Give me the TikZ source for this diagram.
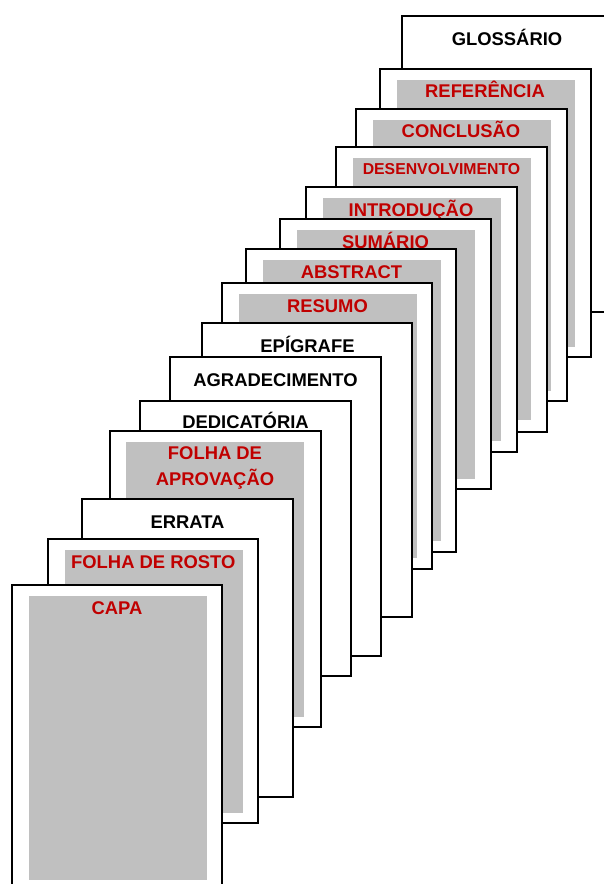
\documentclass[tikz,border=0pt]{standalone}
\usepackage{fontspec}
\setmainfont{Liberation Sans}
\definecolor{redtxt}{HTML}{C00000}
\definecolor{greyfill}{HTML}{C0C0C0}
\tikzset{
  sheet/.style={draw=black, fill=white, line width=1.3pt},
  shade/.style={fill=greyfill, draw=none},
  lbl/.style={anchor=base, inner sep=0pt, font=\fontsize{18.4}{20}\selectfont\bfseries},
  redlbl/.style={lbl, text=redtxt},
  blacklbl/.style={lbl, text=black},
}
\begin{document}
\begin{tikzpicture}[x=1pt,y=-1pt]
\useasboundingbox (0,0) rectangle (603,884);
% GLOSSARIO
\draw[sheet] (402,16) rectangle (620,312);
\node[blacklbl] (glos) at (507,45) {GLOSSÁRIO};
% REFERENCIA
\draw[sheet] (380,69) rectangle (591,357);
\fill[shade] (397,80) rectangle (575,347);
\node[redlbl] (ref) at (485,97) {REFERÊNCIA};
% CONCLUSAO
\draw[sheet] (356,109) rectangle (567,401);
\fill[shade] (373,120) rectangle (551,391);
\node[redlbl] (conc) at (461,137) {CONCLUSÃO};
% DESENVOLVIMENTO
\draw[sheet] (336,147) rectangle (547,432);
\fill[shade] (353,158) rectangle (531,420);
\node[redlbl, font=\fontsize{15.8}{18}\selectfont\bfseries] (desen) at (441.5,174) {DESENVOLVIMENTO};
% INTRODUCAO
\draw[sheet] (306,187) rectangle (517,452);
\fill[shade] (323,198) rectangle (501,441);
\node[redlbl] (intro) at (411,216) {INTRODUÇÃO};
% SUMARIO
\draw[sheet] (280,219) rectangle (491,489);
\fill[shade] (297,230) rectangle (475,479);
\node[redlbl] (sum) at (385.5,248) {SUMÁRIO};
% ABSTRACT
\draw[sheet] (246,249) rectangle (456,552);
\fill[shade] (263,260) rectangle (441,541);
\node[redlbl] (abs) at (351.5,278) {ABSTRACT};
% RESUMO
\draw[sheet] (222,283) rectangle (432,569);
\fill[shade] (239,294) rectangle (417,558);
\node[redlbl] (res) at (327.5,312) {RESUMO};
% EPIGRAFE
\draw[sheet] (202,323) rectangle (412,617);
\node[blacklbl] (epi) at (307.5,352) {EPÍGRAFE};
% AGRADECIMENTO
\draw[sheet] (170,357) rectangle (381,656);
\node[blacklbl] (agr) at (275.5,386) {AGRADECIMENTO};
% DEDICATORIA
\draw[sheet] (140,401) rectangle (351,676);
\node[blacklbl] (ded) at (245.5,428) {DEDICATÓRIA};
% FOLHA DE APROVACAO
\draw[sheet] (110,431) rectangle (321,727);
\fill[shade] (126,442) rectangle (304,717);
\node[redlbl] (aprov1) at (215,459) {FOLHA DE};
\node[redlbl] (aprov2) at (215,485) {APROVAÇÃO};
% ERRATA
\draw[sheet] (82,499) rectangle (293,797);
\node[blacklbl] (err) at (187.5,528) {ERRATA};
% FOLHA DE ROSTO
\draw[sheet] (48,539) rectangle (258,823);
\fill[shade] (65,550) rectangle (243,813);
\node[redlbl] (rosto) at (153.3,568) {FOLHA DE ROSTO};
% CAPA
\draw[sheet] (12,585) rectangle (222,900);
\fill[shade] (29,596) rectangle (207,880);
\node[redlbl] (capa) at (117,614) {CAPA};
\end{tikzpicture}
\end{document}
